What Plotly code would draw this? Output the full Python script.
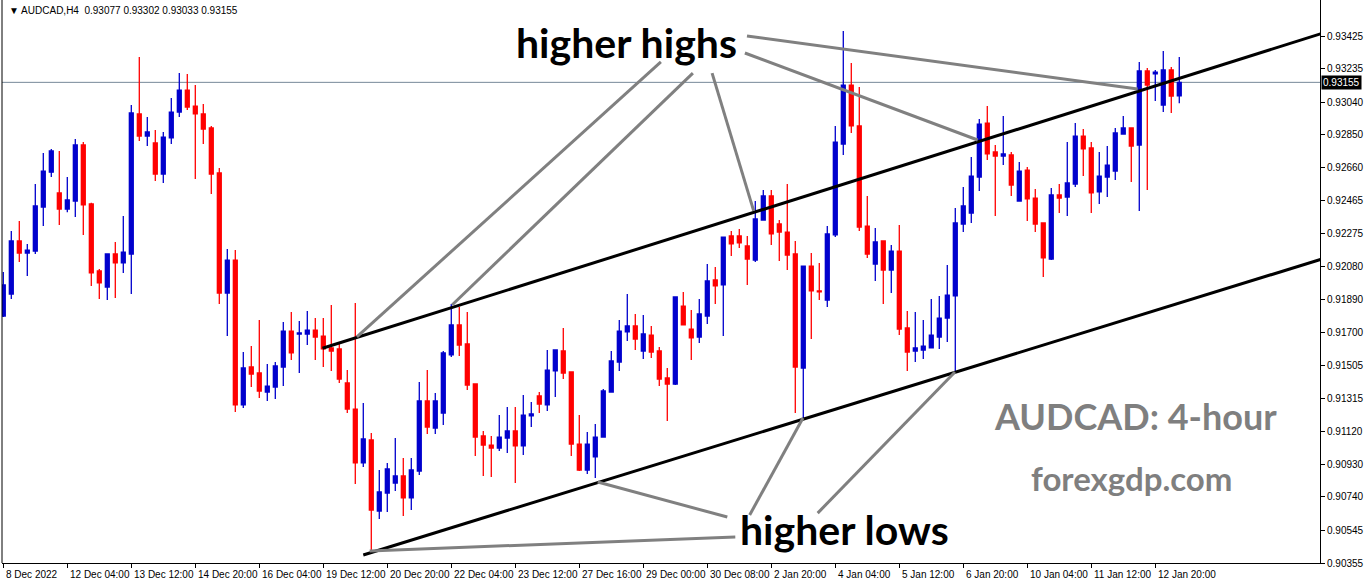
import plotly.graph_objects as go

# ---------------- data ----------------
opens = [0.91794, 0.91922, 0.92231, 0.92161, 0.92172, 0.92429, 0.92632, 0.92511, 0.92417, 0.92464,
         0.92790, 0.92447, 0.92056, 0.91963, 0.92155, 0.92103, 0.92155, 0.92971, 0.92842, 0.92802,
         0.92621, 0.92831, 0.92982, 0.93110, 0.93017, 0.92971, 0.92889, 0.92627, 0.91928, 0.92120,
         0.91276, 0.91497, 0.91462, 0.91351, 0.91380, 0.91497, 0.91706, 0.91689, 0.91689, 0.91712,
         0.91677, 0.91608, 0.91602, 0.91404, 0.91252, 0.90938, 0.91072, 0.90658, 0.90763, 0.90821,
         0.90862, 0.90734, 0.90891, 0.91299, 0.91141, 0.91229, 0.91567, 0.91742, 0.91631, 0.91398,
         0.91095, 0.91042, 0.91025, 0.91083, 0.91124, 0.91037, 0.91212, 0.91328, 0.91276, 0.91474,
         0.91590, 0.91468, 0.91048, 0.90897, 0.90973, 0.91089, 0.91351, 0.91526, 0.91701, 0.91736,
         0.91590, 0.91683, 0.91590, 0.91433, 0.91398, 0.91852, 0.91718, 0.91671, 0.91794, 0.92004,
         0.91975, 0.92260, 0.92260, 0.92202, 0.92120, 0.92353, 0.92493, 0.92330, 0.92283, 0.92155,
         0.91491, 0.92085, 0.91940, 0.91887, 0.92266, 0.92796, 0.93139, 0.92901, 0.92318, 0.92097,
         0.92231, 0.92062, 0.92172, 0.91724, 0.91590, 0.91596, 0.91608, 0.91671, 0.91782, 0.91911,
         0.92330, 0.92394, 0.92603, 0.92918, 0.92750, 0.92726, 0.92732, 0.92464, 0.92644, 0.92481,
         0.92336, 0.92126, 0.92499, 0.92487, 0.92563, 0.92842, 0.92773, 0.92517, 0.92603, 0.92638,
         0.92854, 0.92889, 0.92790, 0.93221, 0.93204, 0.93023, 0.93227, 0.93077]
highs = [0.92050, 0.92289, 0.92347, 0.92214, 0.92563, 0.92744, 0.92767, 0.92755, 0.92603, 0.92825,
         0.92807, 0.92453, 0.92068, 0.92155, 0.92225, 0.92376, 0.93023, 0.93302, 0.92953, 0.92877,
         0.92866, 0.93064, 0.93209, 0.93204, 0.93139, 0.93029, 0.92901, 0.92656, 0.92184, 0.92178,
         0.91584, 0.91619, 0.91771, 0.91514, 0.91526, 0.91759, 0.91817, 0.91765, 0.91823, 0.91782,
         0.91782, 0.91858, 0.91637, 0.91479, 0.91870, 0.91287, 0.91112, 0.90897, 0.90938, 0.91083,
         0.90967, 0.90967, 0.91409, 0.91479, 0.91346, 0.91590, 0.91864, 0.91847, 0.91817, 0.91398,
         0.91124, 0.91095, 0.91217, 0.91264, 0.91264, 0.91334, 0.91293, 0.91351, 0.91596, 0.91596,
         0.91724, 0.91468, 0.91217, 0.91118, 0.91165, 0.91369, 0.91590, 0.91771, 0.91922, 0.91806,
         0.91800, 0.91736, 0.91613, 0.91491, 0.91905, 0.91934, 0.91829, 0.91893, 0.92097, 0.92079,
         0.92254, 0.92289, 0.92301, 0.92260, 0.92464, 0.92528, 0.92528, 0.92353, 0.92563, 0.92231,
         0.92085, 0.92161, 0.92103, 0.92318, 0.92901, 0.93454, 0.93268, 0.93128, 0.92493, 0.92307,
         0.92231, 0.92208, 0.92324, 0.91823, 0.91817, 0.91771, 0.91893, 0.91911, 0.92091, 0.92423,
         0.92546, 0.92720, 0.92942, 0.93017, 0.92790, 0.92959, 0.92750, 0.92691, 0.92662, 0.92534,
         0.92336, 0.92540, 0.92563, 0.92807, 0.92918, 0.92883, 0.92807, 0.92750, 0.92784, 0.92889,
         0.92959, 0.92889, 0.93274, 0.93238, 0.93227, 0.93338, 0.93245, 0.93302]
lows = [0.91788, 0.91893, 0.92108, 0.92027, 0.92155, 0.92318, 0.92603, 0.92324, 0.92399, 0.92370,
        0.92266, 0.91969, 0.91893, 0.91887, 0.91899, 0.92045, 0.91922, 0.92813, 0.92784, 0.92580,
        0.92569, 0.92796, 0.92953, 0.92994, 0.92592, 0.92796, 0.92505, 0.91864, 0.91677, 0.91235,
        0.91258, 0.91380, 0.91316, 0.91299, 0.91311, 0.91386, 0.91538, 0.91462, 0.91625, 0.91538,
        0.91497, 0.91474, 0.91404, 0.91229, 0.90815, 0.90915, 0.90431, 0.90612, 0.90652, 0.90775,
        0.90629, 0.90664, 0.90868, 0.91107, 0.91107, 0.91159, 0.91555, 0.91561, 0.91363, 0.90978,
        0.90862, 0.90856, 0.91007, 0.90996, 0.90821, 0.90984, 0.91147, 0.91229, 0.91241, 0.91322,
        0.91427, 0.90978, 0.90891, 0.90874, 0.90851, 0.91089, 0.91351, 0.91474, 0.91648, 0.91596,
        0.91544, 0.91550, 0.91386, 0.91182, 0.91392, 0.91742, 0.91538, 0.91637, 0.91748, 0.91864,
        0.91677, 0.92143, 0.92190, 0.91975, 0.92108, 0.92353, 0.92208, 0.92114, 0.92062, 0.91229,
        0.91200, 0.91660, 0.91887, 0.91847, 0.92254, 0.92732, 0.92860, 0.92289, 0.92132, 0.91998,
        0.91864, 0.91928, 0.91683, 0.91474, 0.91526, 0.91544, 0.91608, 0.91602, 0.91642, 0.91468,
        0.92283, 0.92336, 0.92522, 0.92703, 0.92376, 0.92673, 0.92493, 0.92464, 0.92347, 0.92283,
        0.92021, 0.92120, 0.92394, 0.92376, 0.92546, 0.92609, 0.92394, 0.92447, 0.92487, 0.92586,
        0.92854, 0.92575, 0.92406, 0.92528, 0.93046, 0.92982, 0.92977, 0.93033]
closes = [0.91975, 0.92231, 0.92161, 0.92178, 0.92435, 0.92638, 0.92755, 0.92417, 0.92470, 0.92790,
          0.92441, 0.92045, 0.91987, 0.92155, 0.92103, 0.92166, 0.92977, 0.92842, 0.92866, 0.92621,
          0.92836, 0.92982, 0.93110, 0.93011, 0.92971, 0.92883, 0.92621, 0.91928, 0.92120, 0.91276,
          0.91491, 0.91456, 0.91357, 0.91386, 0.91503, 0.91706, 0.91579, 0.91695, 0.91712, 0.91671,
          0.91602, 0.91590, 0.91427, 0.91252, 0.90938, 0.91078, 0.90664, 0.90769, 0.90903, 0.90862,
          0.90734, 0.90897, 0.91299, 0.91147, 0.91299, 0.91579, 0.91742, 0.91625, 0.91392, 0.91089,
          0.91042, 0.91025, 0.91089, 0.91124, 0.91037, 0.91217, 0.91223, 0.91281, 0.91479, 0.91596,
          0.91462, 0.91048, 0.90897, 0.91048, 0.91089, 0.91357, 0.91532, 0.91706, 0.91736, 0.91660,
          0.91689, 0.91584, 0.91427, 0.91398, 0.91905, 0.91742, 0.91666, 0.91806, 0.91998, 0.91969,
          0.92254, 0.92214, 0.92220, 0.92126, 0.92359, 0.92493, 0.92272, 0.92283, 0.92149, 0.91497,
          0.92085, 0.91940, 0.91934, 0.92272, 0.92807, 0.93139, 0.92901, 0.92312, 0.92155, 0.92225,
          0.92062, 0.92172, 0.91718, 0.91584, 0.91608, 0.91619, 0.91683, 0.91782, 0.91916, 0.92336,
          0.92435, 0.92609, 0.92912, 0.92738, 0.92726, 0.92738, 0.92557, 0.92638, 0.92476, 0.92330,
          0.92132, 0.92499, 0.92481, 0.92569, 0.92842, 0.92767, 0.92511, 0.92609, 0.92673, 0.92860,
          0.92889, 0.92784, 0.93221, 0.93139, 0.93215, 0.93227, 0.93075, 0.93155]
bar_index = list(range(len(opens)))

time_tick_index = [0, 8, 16, 24, 32, 40, 48, 56, 64, 72, 80, 88, 96, 104, 112, 120, 128, 136, 144]
time_tick_labels = ["8 Dec 2022", "12 Dec 04:00", "13 Dec 12:00", "14 Dec 20:00", "16 Dec 04:00",
                    "19 Dec 12:00", "20 Dec 20:00", "22 Dec 04:00", "23 Dec 12:00", "27 Dec 16:00",
                    "29 Dec 00:00", "30 Dec 08:00", "2 Jan 20:00", "4 Jan 04:00", "5 Jan 12:00",
                    "6 Jan 20:00", "10 Jan 04:00", "11 Jan 12:00", "12 Jan 20:00"]
price_ticks = [0.93425, 0.93235, 0.93040, 0.92850, 0.92660, 0.92465, 0.92275, 0.92080, 0.91890,
               0.91700, 0.91505, 0.91315, 0.91120, 0.90930, 0.90740, 0.90545, 0.90355]
price_tick_labels = ["%.5f" % v for v in price_ticks]
last_price = 0.93155
header_text = "\u25BC AUDCAD,H4  0.93077 0.93302 0.93033 0.93155"

# channel lines: (bar index, price) end points
channel_upper = [(39.9, 0.91606), (164.7, 0.93438)]
channel_lower = [(45.0, 0.90402), (164.7, 0.92124)]
# grey pointer lines from labels to touches
pointer_lines = [
    [(82.2, 0.93274), (44.2, 0.91672)],
    [(86.2, 0.93209), (56.1, 0.91858)],
    [(88.6, 0.93209), (93.8, 0.92406)],
    [(92.96, 0.93425), (141.8, 0.93116)],
    [(92.7, 0.93326), (121.8, 0.92819)],
    [(45.8, 0.90425), (91.5, 0.90507)],
    [(74.3, 0.90827), (90.5, 0.90623)],
    [(99.96, 0.91200), (93.3, 0.90635)],
    [(118.96, 0.91468), (101.8, 0.90646)],
]
big_labels = [
    ("higher highs", 77.96, 0.93390, 41, "black"),
    ("higher lows", 105.1, 0.90548, 41, "black"),
    ("AUDCAD: 4-hour", 141.5, 0.91212, 36, "#7f7f7f"),
    ("forexgdp.com", 141.0, 0.90850, 33, "#7f7f7f"),
]

X_RANGE = [-0.1625, 164.59]
Y_RANGE = [0.903552, 0.936347]

# ---------------- figure ----------------
fig = go.Figure()
fig.add_trace(go.Candlestick(
    x=bar_index, open=opens, high=highs, low=lows, close=closes,
    increasing=dict(line=dict(color="#0000CD", width=1.3), fillcolor="#0000CD"),
    decreasing=dict(line=dict(color="#FF0000", width=1.3), fillcolor="#FF0000"),
    whiskerwidth=0, showlegend=False, hoverinfo="skip",
))

shapes = []
# last price horizontal line
shapes.append(dict(type="line", xref="paper", x0=0, x1=1, yref="y", y0=last_price, y1=last_price,
                   line=dict(color="#778899", width=1), layer="below"))
for (p0, p1) in [channel_upper, channel_lower]:
    shapes.append(dict(type="line", xref="x", yref="y", x0=p0[0], y0=p0[1], x1=p1[0], y1=p1[1],
                       line=dict(color="black", width=3)))
for seg in pointer_lines:
    shapes.append(dict(type="line", xref="x", yref="y", x0=seg[0][0], y0=seg[0][1],
                       x1=seg[1][0], y1=seg[1][1], line=dict(color="#808080", width=3)))
# left border
shapes.append(dict(type="line", xref="paper", yref="paper", x0=0, x1=0, y0=0, y1=1,
                   line=dict(color="black", width=1)))
fig.update_layout(shapes=shapes)

annotations = []
annotations.append(dict(text=header_text, xref="paper", yref="paper", x=0.004, y=1, yshift=-3,
                        xanchor="left", yanchor="top", showarrow=False,
                        font=dict(family="Liberation Sans", size=10, color="black")))
for k, lab in zip(time_tick_index, time_tick_labels):
    annotations.append(dict(text=lab, xref="x", yref="paper", x=k, y=0, xshift=1, yshift=-4,
                            xanchor="left", yanchor="top", showarrow=False,
                            font=dict(family="Liberation Sans", size=10, color="black")))
for text, bx, by, size, color in big_labels:
    annotations.append(dict(text="<b>%s</b>" % text, xref="x", yref="y", x=bx, y=by,
                            xanchor="center", yanchor="middle", showarrow=False,
                            font=dict(family="Lato", size=size, color=color)))
annotations.append(dict(text="%.5f" % last_price, xref="paper", yref="y", x=1, y=last_price,
                        xshift=1, xanchor="left", yanchor="middle", showarrow=False,
                        bgcolor="black", borderpad=1,
                        font=dict(family="Liberation Sans", size=10, color="white")))
fig.update_layout(annotations=annotations)

fig.update_layout(
    width=1366, height=587,
    margin=dict(l=2, r=46, t=0, b=24),
    paper_bgcolor="white", plot_bgcolor="white",
    boxgap=0.3, boxgroupgap=0.3,
    xaxis=dict(range=X_RANGE, rangeslider=dict(visible=False), showgrid=False, zeroline=False,
               showline=True, linecolor="black", linewidth=1, tickmode="array",
               tickvals=time_tick_index, showticklabels=False, ticks="outside", ticklen=4,
               tickcolor="black", fixedrange=True),
    yaxis=dict(range=Y_RANGE, side="right", showgrid=False, zeroline=False, showline=True,
               linecolor="black", linewidth=1, tickmode="array", tickvals=price_ticks,
               ticktext=price_tick_labels, ticks="outside", ticklen=4, tickcolor="black",
               tickfont=dict(family="Liberation Sans", size=10, color="black"), fixedrange=True),
)

fig.write_html("out.html", config={"displayModeBar": False},
               post_script="document.body.style.margin='0px';document.body.style.overflow='hidden';")
